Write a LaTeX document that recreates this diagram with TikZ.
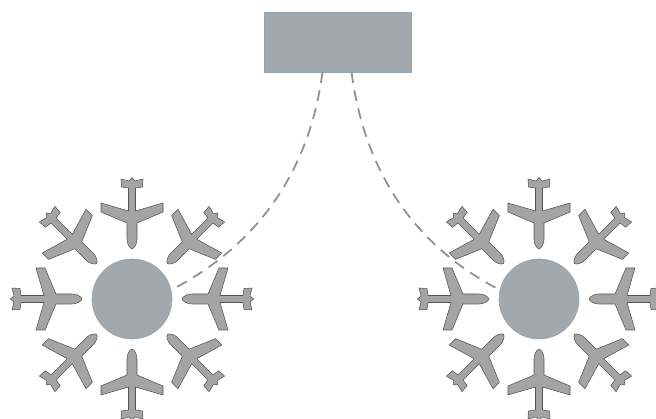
\documentclass[tikz,border=0pt]{standalone}
\definecolor{planefill}{HTML}{A4A4A4}
\definecolor{planeline}{HTML}{555555}
\definecolor{hubfill}{HTML}{A3A8AC}
\definecolor{hubline}{HTML}{94A6B5}
\definecolor{dashcol}{HTML}{929292}
\tikzset{
  x=1pt,y=-1pt,
  hubbox/.style={draw=hubline,fill=hubfill,line width=0.6pt,inner sep=0pt,outer sep=0pt},
  plane/.style={draw=planeline,fill=planefill,line width=0.55pt,line join=round},
  link/.style={draw=dashcol,line width=1.8pt,dash pattern=on 11pt off 7.5pt},
}
\newcommand{\planeshape}{%
  (0,-50) .. controls (2.5,-51) and (5,-55) .. (5,-60) -- (5,-76)
  -- (31,-87) -- (31,-96) -- (3.5,-88) -- (3.5,-111) -- (10.5,-112) -- (11,-120)
  -- (3,-118) -- (0,-121.5) -- (-3,-118) -- (-11,-120) -- (-10.5,-112) -- (-3.5,-111)
  -- (-3.5,-88) -- (-31,-96) -- (-31,-87) -- (-5,-76) -- (-5,-60)
  .. controls (-5,-55) and (-2.5,-51) .. (0,-50) -- cycle}
\begin{document}
\begin{tikzpicture}
\useasboundingbox (0,0) rectangle (656,419);
\node[hubbox,minimum width=147pt,minimum height=60pt] (top) at (337.5,42) {};
\node[hubbox,circle,minimum size=80pt] (left) at (132,299) {};
\node[hubbox,circle,minimum size=80pt] (right) at (539,299) {};
\coordinate (topL) at ([xshift=-15pt]top.south);
\coordinate (topR) at ([xshift=14pt]top.south);
\foreach \c in {132,539}{
  \foreach \a in {0,45,...,315}{
    \path[plane,shift={(\c,299)},rotate=\a] \planeshape;
  }
}
\draw[link] (topL) .. controls +(-14,108) and +(78,-40) .. (left.13);
\draw[link] (topR) .. controls +(14,108) and +(-78,-40) .. (right.167);
\end{tikzpicture}
\end{document}
